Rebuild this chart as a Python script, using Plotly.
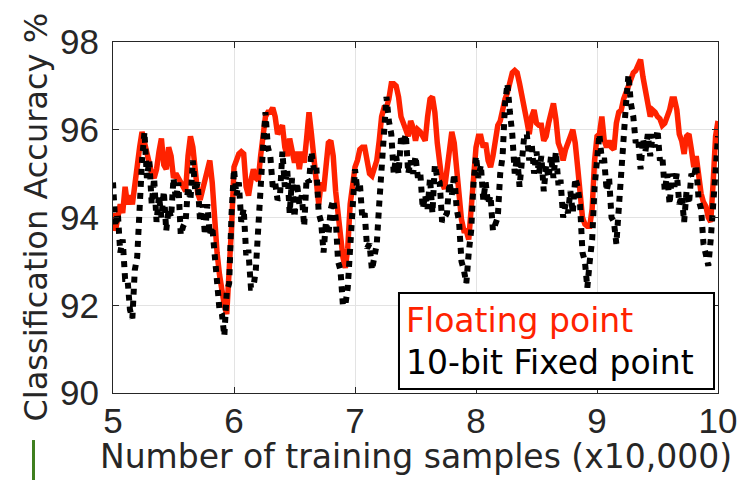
import plotly.graph_objects as go

# x axis: number of training samples in units of 10,000 (sampled every 0.02)
x_start, x_step, n_pts = 5.0, 0.02, 251
samples = [round(x_start + x_step * i, 2) for i in range(n_pts)]

floating_point = [
    94.1, 93.7, 94.0, 94.3, 94.1, 94.7, 94.3, 94.5, 94.3, 94.8,
    95.2, 95.6, 95.95, 95.7, 95.5, 95.2, 95.0, 94.9, 95.1, 95.5,
    95.8, 95.2, 95.1, 95.6, 95.4, 94.9, 95.0, 94.9, 94.8, 94.7,
    94.6, 95.4, 95.85, 95.6, 95.0, 94.55, 94.4, 94.6, 94.8, 95.0,
    95.3, 94.8, 93.9, 93.2, 92.7, 92.3, 92.0, 91.8, 92.6, 93.8,
    95.15, 95.3, 95.45, 95.5, 95.45, 94.7, 94.5, 94.85, 95.1, 94.9,
    94.85, 95.4, 96.0, 96.3, 96.4, 96.4, 96.5, 96.3, 95.9, 96.0,
    96.1, 95.6, 95.4, 95.8, 95.55, 95.25, 95.5, 95.1, 95.5, 95.25,
    95.8, 96.4, 95.9, 95.4, 94.8, 94.3, 94.8, 94.6, 95.15, 95.7,
    95.75, 95.4, 94.6, 94.0, 93.6, 93.1, 92.85, 93.3, 94.3, 94.85,
    95.15, 95.3, 95.55, 95.6, 95.6, 95.3, 95.0, 94.95, 95.1, 95.3,
    95.75, 96.3, 96.5, 96.5, 96.7, 97.05, 97.05, 97.0, 96.75, 96.3,
    96.15, 96.0, 95.85, 96.2, 96.05, 95.75, 96.0, 95.95, 95.85, 95.75,
    96.3, 96.7, 96.75, 96.4, 95.7, 95.25, 94.8, 94.65, 95.1, 95.4,
    95.95, 95.7, 95.1, 94.4, 93.95, 93.7, 93.7, 93.5, 94.2, 95.1,
    95.6, 95.85, 95.85, 95.6, 95.7, 95.3, 95.15, 95.4, 95.85, 96.1,
    96.2, 96.5, 96.7, 96.85, 97.05, 97.3, 97.35, 97.3, 97.05, 96.7,
    96.5, 96.2, 95.9, 96.3, 96.45, 96.15, 96.1, 96.1, 95.75, 95.85,
    96.15, 96.4, 96.6, 96.25, 95.7, 95.55, 95.3, 95.55, 95.75, 95.85,
    96.0, 95.7, 95.15, 94.55, 94.0, 93.85, 93.8, 93.8, 94.2, 95.3,
    95.85, 95.9, 96.3, 95.75, 95.6, 95.75, 95.6, 95.55, 96.15, 96.4,
    96.45, 96.7, 96.85, 97.05, 97.15, 97.3, 97.35, 97.5, 97.6, 97.2,
    96.85, 96.45, 96.3, 96.45, 96.4, 96.3, 96.25, 96.1, 96.15, 96.3,
    96.45, 96.7, 96.7, 96.45, 95.9, 95.75, 95.45, 95.85, 95.9, 95.55,
    95.15, 95.4, 94.95, 94.55, 94.35, 94.25, 94.0, 93.9, 94.8, 95.85, 96.2,
]

fixed_point_10bit = [
    94.8, 93.8, 94.1, 93.2, 93.5, 92.6, 92.6, 91.9, 91.7, 92.8,
    93.1, 94.6, 95.3, 95.95, 94.9, 95.3, 94.3, 94.9, 93.9, 94.5,
    94.0, 94.6, 93.7, 94.2, 94.0, 94.9, 94.4, 94.8, 93.6, 93.8,
    93.9, 94.7, 94.4, 95.3, 94.6, 94.8, 93.9, 94.3, 93.6, 94.3,
    93.6, 93.8, 93.1, 92.8, 91.9, 91.8, 91.3, 92.3, 92.5, 94.1,
    95.1, 94.5, 94.8, 93.9, 94.2, 93.2, 93.2, 92.4, 92.4, 92.8,
    93.9, 94.4, 95.6, 96.4, 95.6, 95.4, 94.7, 94.8, 94.4, 94.5,
    95.5, 94.7, 95.1, 94.1, 94.9, 94.0, 94.8, 94.3, 94.5, 93.8,
    94.9, 94.8, 95.5, 95.1, 95.2, 94.1, 93.9, 93.2, 93.9, 93.6,
    94.2, 94.4, 94.0, 93.0, 92.8, 92.0, 92.0, 92.4, 93.3, 93.9,
    95.1, 94.6, 94.8, 94.0, 94.1, 93.3, 93.4, 92.8, 93.2, 93.4,
    94.3, 95.0, 96.0, 96.75, 96.2, 95.9, 95.0, 95.4, 95.0, 95.8,
    95.7, 95.9, 95.0, 95.3, 95.0, 95.4, 94.9, 95.0, 94.2, 94.5,
    94.2, 94.9, 94.1, 95.2, 94.9, 94.8, 93.9, 94.0, 94.1, 94.8,
    94.5, 95.0, 94.2, 93.9, 93.0, 92.8, 92.5, 93.2, 93.7, 94.8,
    95.4, 94.9, 95.2, 94.4, 94.8, 94.3, 94.5, 93.7, 93.9, 94.0,
    95.0, 95.4, 96.6, 97.05, 96.4, 95.9, 95.0, 95.4, 94.7, 95.5,
    95.9, 95.9, 95.3, 95.7, 95.0, 95.5, 95.0, 95.4, 94.6, 95.2,
    94.9, 95.4, 94.9, 95.5, 94.8, 94.8, 94.0, 94.3, 94.1, 94.6,
    94.1, 94.9, 94.7, 94.3, 93.2, 93.0, 92.4, 93.0, 93.5, 94.7,
    95.2, 95.9, 95.3, 95.3, 94.6, 94.9, 94.0, 93.9, 93.4, 94.1,
    94.7, 95.8, 96.6, 97.25, 96.6, 96.3, 95.7, 95.8, 95.1, 95.8,
    95.5, 95.9, 95.4, 95.9, 95.6, 96.0, 95.3, 95.4, 94.6, 95.0,
    94.3, 95.0, 94.7, 95.0, 94.3, 94.5, 93.9, 94.6, 94.3, 95.0,
    94.9, 95.2, 94.4, 94.2, 93.4, 93.2, 92.9, 93.5, 94.3, 95.4, 95.85,
]

x_ticks = [5, 6, 7, 8, 9, 10]
y_ticks = [90, 92, 94, 96, 98]
legend_labels = ["Floating point", "10-bit Fixed point"]
x_title = "Number of training samples (x10,000)"
y_title = "Classification Accuracy %"

RED = "#ff2200"
INK = "#262626"
TICK_FONT = "Liberation Sans, Arial, Helvetica, sans-serif"
TEXT_FONT = "DejaVu Sans, Verdana, sans-serif"

fig = go.Figure()
fig.add_trace(go.Scatter(x=samples, y=floating_point, mode="lines",
                         line=dict(color=RED, width=5.5), name=legend_labels[0],
                         showlegend=False, hoverinfo="skip"))
fig.add_trace(go.Scatter(x=samples, y=fixed_point_10bit, mode="lines",
                         line=dict(color="black", width=6, dash="dot"),
                         name=legend_labels[1], showlegend=False, hoverinfo="skip"))

axis_common = dict(showline=True, linecolor=INK, linewidth=1, mirror="ticks",
                   ticks="inside", ticklen=6, tickcolor=INK, showgrid=True,
                   gridcolor="#e3e3e3", gridwidth=1, zeroline=False,
                   automargin=False, ticklabeloverflow="allow",
                   tickfont=dict(family=TICK_FONT, size=35, color=INK))

fig.update_xaxes(range=[5, 10], tickvals=x_ticks, ticktext=[str(v) for v in x_ticks],
                 ticklabelstandoff=-3, **axis_common)
fig.update_yaxes(range=[90, 98], tickvals=y_ticks, ticktext=[str(v) for v in y_ticks],
                 ticklabelstandoff=6, **axis_common)

# axis titles
fig.add_annotation(xref="paper", yref="paper", x=0.5, y=-0.1795, xanchor="center",
                   yanchor="middle", showarrow=False, text=x_title,
                   font=dict(family=TEXT_FONT, size=33, color=INK))
fig.add_annotation(xref="paper", yref="paper", x=-0.1289, y=0.5, xanchor="center",
                   yanchor="middle", showarrow=False, text=y_title, textangle=-90,
                   font=dict(family=TEXT_FONT, size=32, color=INK))

# legend box (MATLAB style, text only)
fig.add_shape(type="rect", xref="paper", yref="paper", x0=0.4727, x1=0.9934,
              y0=0.0114, y1=0.2849, line=dict(color="black", width=2),
              fillcolor="white", layer="above")
fig.add_annotation(xref="paper", yref="paper", x=0.481, y=0.2066, xanchor="left",
                   yanchor="middle", showarrow=False, text=legend_labels[0],
                   font=dict(family=TEXT_FONT, size=33, color=RED))
fig.add_annotation(xref="paper", yref="paper", x=0.481, y=0.0855, xanchor="left",
                   yanchor="middle", showarrow=False, text=legend_labels[1],
                   font=dict(family=TEXT_FONT, size=33, color="black"))

# small green mark at bottom-left
fig.add_shape(type="line", xref="paper", yref="paper", x0=-0.1314, x1=-0.1314,
              y0=-0.134, y1=-0.26, line=dict(color="#3f7f1f", width=3))

fig.update_layout(width=737, height=480, margin=dict(l=113, r=19, t=42, b=87),
                  paper_bgcolor="white", plot_bgcolor="white",
                  font=dict(family=TICK_FONT, color=INK), hovermode=False)

fig.write_html("out.html", config={"displayModeBar": False},
               post_script="document.body.style.margin='0';"
                           "document.body.style.overflow='hidden';")
